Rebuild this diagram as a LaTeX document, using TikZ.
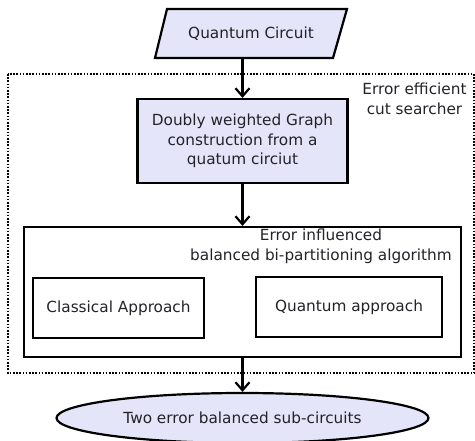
\documentclass[tikz,border=0pt]{standalone}
\usepackage{fontspec}
\setmainfont{DejaVu Sans}
\usetikzlibrary{arrows.meta,shapes.geometric}
\definecolor{lav}{RGB}{229,229,249}
\definecolor{txt}{RGB}{34,34,40}
\begin{document}
\begin{tikzpicture}[x=1pt,y=-1pt,
  every node/.style={text=txt,font=\fontsize{15.3}{19.5}\selectfont,inner sep=0pt},
  boxw/.style={draw=black,line width=2.2pt,rectangle},
  flow/.style={draw=black,line width=2.2pt,-{Straight Barb[length=8pt,width=14pt,line width=2.2pt]}}]
\useasboundingbox (0,0) rectangle (475,441);
% input parallelogram
\draw[fill=lav,line width=2.2pt] (167,9) -- (347,9) -- (333,58) -- (155,58) -- cycle;
\node (qc) at (251,33.5) {Quantum Circuit};
\coordinate (qcb) at (242.5,58);
% dotted container
\draw[line width=1.8pt,dash pattern=on 1.6pt off 1.6pt] (8,74) rectangle (474,373);
\node[align=center] (lbl) at (414.5,99) {Error efficient\\cut searcher};
% graph construction
\node[boxw,fill=lav,minimum width=210pt,minimum height=84pt,align=center] (g) at (242.5,141)
  {Doubly weighted Graph\\construction from a\\quatum circiut};
% algorithm box
\node[boxw,minimum width=437pt,minimum height=130pt] (alg) at (242.5,292) {};
\node[align=center] (algl) at (321,246.5) {Error influenced\\balanced bi-partitioning algorithm};
\node[boxw,minimum width=171pt,minimum height=60pt] (cl) at (118.5,308) {Classical Approach};
\node[boxw,minimum width=186pt,minimum height=60pt] (qa) at (349,307) {Quantum approach};
% output
\node[ellipse,draw=black,line width=2.2pt,fill=lav,minimum width=372pt,minimum height=50pt] (out) at (242.5,418) {Two error balanced sub-circuits};
% arrows
\draw[flow] (qcb) -- (g.north);
\draw[flow] (g.south) -- (alg.north);
\draw[flow] (alg.south) -- (out.north);
\end{tikzpicture}
\end{document}
